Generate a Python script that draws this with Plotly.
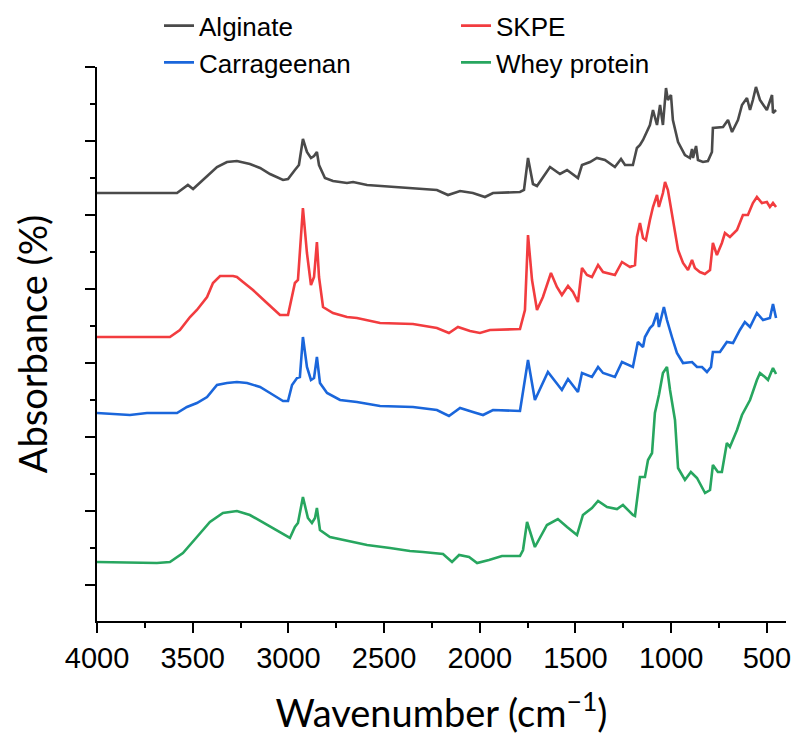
import plotly.graph_objects as go

# Wavenumbers (cm-1) and absorbance (arbitrary, stacked)
alg_wn = [4000, 3582, 3525, 3498, 3373, 3321, 3269, 3201, 3148, 3096, 3028, 3002, 2966, 2945, 2924,
          2903, 2882, 2866, 2851, 2840, 2809, 2767, 2694, 2662, 2589, 2521, 2349, 2224, 2166, 2103,
          2036, 1973, 1931, 1790, 1769, 1748, 1722, 1701, 1633, 1581, 1544, 1487, 1466, 1424, 1388,
          1346, 1294, 1262, 1241, 1200, 1179, 1163, 1147, 1111, 1095, 1074, 1058, 1043, 1027, 1017,
          1001, 991, 964, 928, 902, 891, 886, 870, 860, 834, 808, 787, 782, 729, 703,
          682, 651, 630, 604, 588, 573, 557, 536, 500, 473, 468, 452]
alg_abs = [428, 428, 436, 432, 454, 459, 460, 457, 453, 447, 441, 442, 451, 456, 482,
           469, 463, 465, 469, 456, 443, 440, 438, 439, 436, 435, 433, 431, 426, 430,
           428, 424, 428, 429, 431, 463, 437, 435, 454, 447, 451, 443, 456, 459, 463,
           461, 454, 462, 456, 456, 473, 476, 481, 496, 511, 496, 516, 496, 533, 521,
           526, 501, 479, 466, 463, 472, 463, 475, 461, 459, 460, 469, 493, 494, 501,
           489, 501, 516, 523, 511, 521, 534, 521, 511, 526, 508, 511]

skpe_wn = [4000, 3619, 3567, 3514, 3478, 3425, 3394, 3357, 3289, 3269, 3237, 3185, 3112, 3044, 3002,
           2966, 2950, 2934, 2924, 2903, 2882, 2866, 2851, 2840, 2819, 2767, 2694, 2642, 2521, 2349,
           2224, 2161, 2114, 2051, 1999, 1947, 1790, 1764, 1748, 1727, 1701, 1670, 1628, 1597, 1571,
           1539, 1513, 1487, 1466, 1440, 1414, 1382, 1356, 1294, 1257, 1215, 1189, 1179, 1163, 1147,
           1132, 1111, 1095, 1074, 1064, 1043, 1032, 1017, 1001, 986, 964, 938, 912, 891, 876,
           850, 824, 797, 782, 761, 735, 719, 693, 656, 625, 599, 573, 552, 526, 500,
           484, 468, 452]
skpe_abs = [284, 284, 291, 304, 311, 324, 338, 345, 345, 344, 339, 331, 318, 306, 306,
            338, 341, 384, 413, 368, 336, 344, 379, 344, 314, 308, 304, 303, 298, 297,
            293, 288, 294, 290, 288, 291, 292, 311, 386, 341, 311, 324, 348, 334, 326,
            335, 329, 319, 353, 346, 344, 356, 349, 346, 359, 354, 356, 384, 398, 383,
            381, 401, 414, 426, 414, 428, 439, 431, 414, 398, 371, 358, 351, 361, 353,
            349, 347, 351, 378, 366, 378, 388, 384, 391, 406, 406, 418, 424, 418, 419,
            414, 418, 414]

car_wn = [4000, 3828, 3739, 3582, 3530, 3478, 3425, 3373, 3321, 3269, 3216, 3148, 3096, 3028, 3002,
          2981, 2955, 2940, 2924, 2903, 2882, 2866, 2851, 2835, 2798, 2730, 2642, 2521, 2349, 2224,
          2161, 2103, 2036, 1983, 1931, 1790, 1748, 1712, 1644, 1618, 1571, 1539, 1487, 1466, 1414,
          1382, 1356, 1294, 1257, 1200, 1174, 1147, 1137, 1111, 1095, 1074, 1064, 1038, 1022, 996,
          970, 938, 891, 865, 839, 813, 792, 782, 745, 709, 677, 641, 615, 588, 552,
          520, 484, 468, 452]
car_abs = [208, 206, 208, 208, 214, 218, 224, 236, 238, 239, 238, 234, 228, 220, 220,
           236, 243, 244, 284, 254, 241, 243, 264, 238, 228, 221, 219, 215, 214, 211,
           205, 213, 209, 206, 211, 210, 261, 221, 249, 243, 231, 242, 229, 248, 244,
           254, 248, 244, 259, 254, 279, 274, 284, 293, 296, 308, 294, 314, 301, 284,
           268, 258, 259, 254, 254, 249, 254, 269, 269, 279, 278, 291, 299, 294, 308,
           301, 303, 317, 303]

whey_wn = [4000, 3687, 3619, 3551, 3478, 3410, 3342, 3269, 3201, 3112, 3044, 2992, 2966, 2950, 2924,
           2898, 2877, 2861, 2851, 2835, 2783, 2663, 2589, 2469, 2365, 2297, 2192, 2145, 2108, 2056,
           2014, 1952, 1884, 1790, 1774, 1753, 1712, 1649, 1618, 1592, 1544, 1492, 1461, 1414, 1382,
           1335, 1283, 1252, 1200, 1189, 1163, 1137, 1121, 1100, 1085, 1064, 1043, 1022, 1006, 980,
           964, 928, 897, 865, 823, 797, 782, 756, 735, 709, 693, 656, 630, 588, 552,
           536, 510, 494, 479, 468, 452]
whey_abs = [59, 58, 59, 68, 84, 99, 108, 110, 106, 96, 88, 83, 94, 98, 124,
            103, 98, 103, 113, 91, 84, 79, 76, 73, 70, 69, 67, 59, 66, 64,
            58, 61, 65, 65, 71, 99, 74, 96, 99, 102, 94, 86, 106, 113, 120,
            114, 112, 116, 106, 105, 144, 144, 161, 168, 208, 226, 248, 254, 231, 201,
            153, 141, 149, 143, 128, 131, 156, 149, 149, 178, 174, 191, 206, 221, 241,
            248, 244, 241, 248, 253, 247]

series_names = ["Alginate", "SKPE", "Carrageenan", "Whey protein"]
x_ticks = [4000, 3500, 3000, 2500, 2000, 1500, 1000, 500]

colors = ["#4a4a4a", "#f23c3f", "#1a66db", "#27a65f"]
data = [(alg_wn, alg_abs), (skpe_wn, skpe_abs), (car_wn, car_abs), (whey_wn, whey_abs)]

fig = go.Figure()
for name, (wn, ab), c in zip(series_names, data, colors):
    fig.add_trace(go.Scatter(x=wn, y=ab, mode="lines", name=name,
                             line=dict(color=c, width=2.6)))

fig.update_layout(
    width=793, height=735,
    margin=dict(l=97, r=7, t=67, b=114, autoexpand=False),
    paper_bgcolor="white", plot_bgcolor="white",
    font=dict(family="Liberation Sans, Arial, sans-serif", color="black"),
    showlegend=True,
    legend=dict(orientation="h", x=0.09, xanchor="left", y=1.117, yanchor="top",
                font=dict(size=26, family="Liberation Sans, Arial, sans-serif"),
                entrywidth=252, bgcolor="rgba(0,0,0,0)", tracegroupgap=0),
)
fig.update_xaxes(
    range=[4000, 400], tickvals=x_ticks, ticktext=[str(v) for v in x_ticks],
    showgrid=False, zeroline=False, showline=True, linecolor="black", linewidth=2,
    ticks="outside", ticklen=10, tickwidth=2, tickcolor="black",
    tickfont=dict(size=29, family="Liberation Sans, Arial, sans-serif"),
    minor=dict(dtick=250, tick0=0, ticks="outside", ticklen=5, tickwidth=2, tickcolor="black"),
    title=dict(text="Wavenumber (cm<sup>\u22121</sup>)", font=dict(size=38, family="Lato, sans-serif"),
               standoff=28),
)
fig.update_yaxes(
    range=[0, 554], tick0=36, dtick=74, showticklabels=False,
    showgrid=False, zeroline=False, showline=True, linecolor="black", linewidth=2,
    ticks="outside", ticklen=10, tickwidth=2, tickcolor="black",
    minor=dict(dtick=37, tick0=36, ticks="outside", ticklen=5, tickwidth=2, tickcolor="black"),
    title=dict(text="Absorbance (%)", font=dict(size=38, family="Lato, sans-serif"), standoff=26),
)

fig.write_html("out.html")
